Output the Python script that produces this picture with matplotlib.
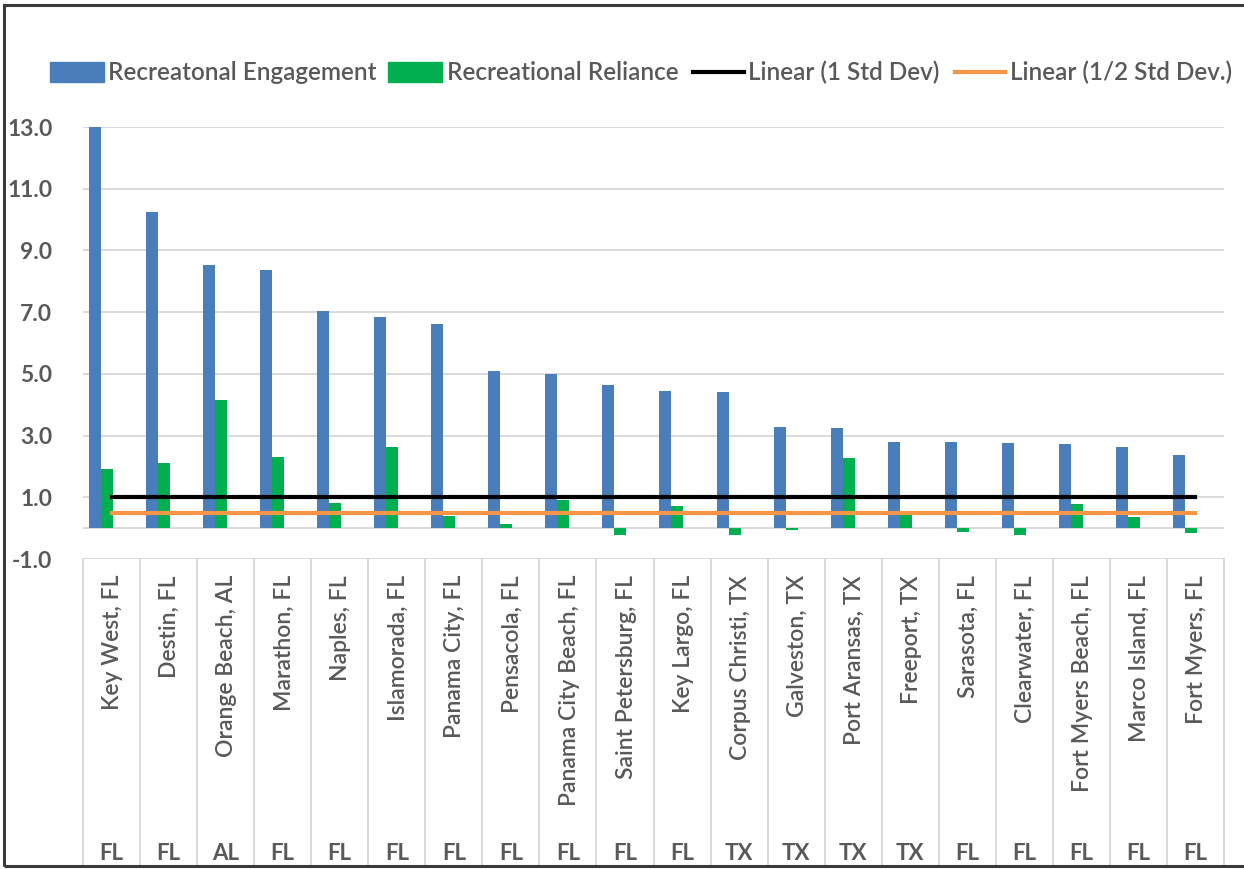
import numpy as np
import matplotlib.pyplot as plt
from matplotlib.patches import Rectangle
from matplotlib.lines import Line2D

# data
cities = ["Key West, FL", "Destin, FL", "Orange Beach, AL", "Marathon, FL", "Naples, FL",
          "Islamorada, FL", "Panama City, FL", "Pensacola, FL", "Panama City Beach, FL",
          "Saint Petersburg, FL", "Key Largo, FL", "Corpus Christi, TX", "Galveston, TX",
          "Port Aransas, TX", "Freeport, TX", "Sarasota, FL", "Clearwater, FL",
          "Fort Myers Beach, FL", "Marco Island, FL", "Fort Myers, FL"]
states = ["FL", "FL", "AL", "FL", "FL", "FL", "FL", "FL", "FL", "FL",
          "FL", "TX", "TX", "TX", "TX", "FL", "FL", "FL", "FL", "FL"]
engagement = [13.6, 10.24, 8.53, 8.37, 7.04, 6.84, 6.62, 5.10, 5.00, 4.64,
              4.45, 4.42, 3.29, 3.24, 2.80, 2.80, 2.76, 2.72, 2.63, 2.36]
reliance = [1.92, 2.11, 4.16, 2.30, 0.82, 2.64, 0.38, 0.15, 0.92, -0.21,
            0.71, -0.21, -0.06, 2.27, 0.44, -0.11, -0.21, 0.78, 0.35, -0.16]
std_1 = [1.0] * len(cities)
std_half = [0.5] * len(cities)

BLUE = "#4A7EBB"
GREEN = "#00B050"
ORANGE = "#F79646"
GRID = "#D9D9D9"
TXT = "#595959"
FONT = "Lato"

W, H = 1244, 869
fig = plt.figure(figsize=(W / 100, H / 100), dpi=100)


def fx(px):
    return px / W


def fy(py):
    return 1 - py / H


ax = fig.add_axes([fx(83), fy(559), fx(1224) - fx(83), fy(127) - fy(559)])
x = np.arange(len(cities))
ax.bar(x - 0.29, engagement, width=0.21, color=BLUE, zorder=2)
ax.bar(x - 0.08, reliance, width=0.21, color=GREEN, zorder=2)
ax.plot(x, std_1, color="black", lw=3, zorder=3)
ax.plot(x, std_half, color=ORANGE, lw=3, zorder=3)

ax.set_xlim(-0.5, len(cities) - 0.5)
ax.set_ylim(-1, 13)
yt = np.arange(-1, 14, 2)
ax.set_yticks(yt)
ax.set_yticklabels([f"{v:.1f}" for v in yt], fontsize=16.5, fontweight="bold",
                   color=TXT, family=FONT)
ax.set_xticks([])
ax.tick_params(axis="y", length=0, pad=22)
ax.grid(axis="y", color=GRID, lw=1.4, zorder=0)
ax.axhline(0, color=GRID, lw=1.4, zorder=1)
for s in ax.spines.values():
    s.set_visible(False)

# category table below the plot
tr = ax.get_xaxis_transform()
bottom = (559 - 866) / (559 - 127)
for k in range(len(cities) + 1):
    ax.add_line(Line2D([k - 0.5, k - 0.5], [0, bottom], transform=tr,
                       color=GRID, lw=1.4, clip_on=False))
for i in range(len(cities)):
    ax.text(i + 0.02, (559 - 575) / 432, cities[i], transform=tr, rotation=90,
            ha="center", va="top", fontsize=16.5, color=TXT, family=FONT,
            fontweight=600)
    ax.text(i, (559 - 853) / 432, states[i], transform=tr, ha="center",
            va="center", fontsize=16, color=TXT, family=FONT, fontweight="bold")

# legend drawn by hand
ly = fy(72)
fig.add_artist(Rectangle((fx(50), fy(82)), fx(54), fy(62) - fy(82), color=BLUE,
                         transform=fig.transFigure))
fig.add_artist(Rectangle((fx(388), fy(82)), fx(54), fy(62) - fy(82), color=GREEN,
                         transform=fig.transFigure))
fig.add_artist(Line2D([fx(693), fx(744)], [ly, ly], color="black", lw=3,
                      transform=fig.transFigure))
fig.add_artist(Line2D([fx(955), fx(1005)], [ly, ly], color=ORANGE, lw=3,
                      transform=fig.transFigure))
labels = ["Recreatonal Engagement", "Recreational Reliance",
          "Linear (1 Std Dev)", "Linear (1/2 Std Dev.)"]
for lx, lab in zip([108, 447, 748, 1010], labels):
    fig.text(fx(lx), ly, lab, ha="left", va="center", fontsize=17.5,
             color=TXT, family=FONT, fontweight=600)

# outer frame
fig.add_artist(Rectangle((fx(4), fy(866)), fx(1300), fy(5) - fy(866), fill=False,
                         edgecolor="#3A3A3A", lw=2.2, transform=fig.transFigure))

fig.savefig("out.png", dpi=100)
